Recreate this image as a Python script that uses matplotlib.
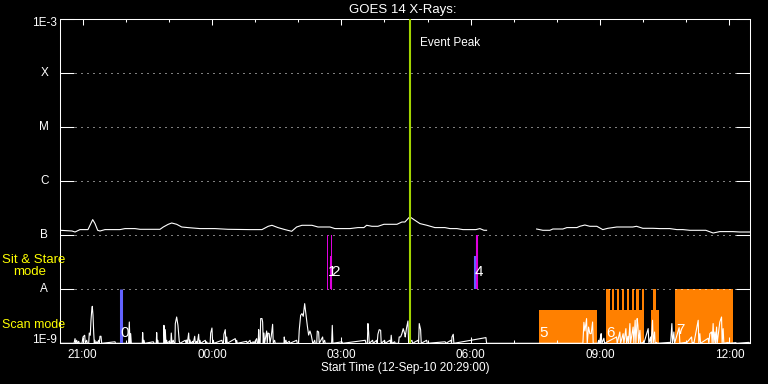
import matplotlib
matplotlib.use("Agg")
import matplotlib.pyplot as plt
from matplotlib.ticker import FixedLocator, NullLocator
import numpy as np

plt.rcParams['font.family'] = ['Liberation Sans', 'DejaVu Sans']

# ---------------- data ----------------
TITLE = "GOES 14 X-Rays:"
START_CLOCK = "20:29"
START_LABEL = "Start Time (12-Sep-10 20:29:00)"
SPAN_MIN = 960  # 16 hours shown

class_labels = ["1E-9", "A", "B", "C", "M", "X", "1E-3"]
class_flux = [1e-9, 1e-8, 1e-7, 1e-6, 1e-5, 1e-4, 1e-3]
grid_labels = ["A", "B", "C", "M", "X"]
hour_labels = ["21:00", "00:00", "03:00", "06:00", "09:00", "12:00"]

NAN = float("nan")
# long channel: (minutes since start, flux in 1e-9 W/m^2)
long_channel = [
    (0, 123.8), (16.3, 120.1), (20.5, 115.1), (27.4, 127.5), (38.5, 127.5), (41.3, 153.2),
    (45.1, 195.3), (48.3, 164.7), (52.0, 123.8), (55.2, 120.1), (62.2, 127.5), (83.0, 127.5),
    (90.0, 133.1), (103.9, 133.1), (110.9, 129.1), (138.7, 129.1), (143.3, 142.5), (150.2, 159.9),
    (155.0, 169.0), (161.9, 159.9), (168.9, 142.5), (177.6, 138.9), (194.3, 133.1), (215.2, 133.1),
    (233.3, 129.1), (263.9, 127.5), (280.6, 127.5), (289.3, 146.8), (294.5, 153.2), (302.8, 138.9),
    (312.6, 127.5), (321.9, 118.6), (328.8, 142.5), (336.2, 153.2), (350.1, 153.2), (358.5, 142.5),
    (375.2, 142.5), (382.1, 133.1), (403.0, 133.1), (414.1, 138.9), (422.4, 138.9), (426.2, 153.2),
    (433.6, 146.8), (441.9, 146.8), (450.3, 159.9), (468.4, 159.9), (475.3, 176.3), (479.5, 176.3),
    (485.1, 212.7), (487.9, 212.7), (493.4, 189.6), (500.4, 164.7), (510.1, 153.2), (521.2, 138.9),
    (535.1, 138.9), (542.1, 133.1), (551.8, 133.1), (560.2, 127.5), (578.2, 127.5), (583.8, 133.1),
    (589.4, 123.8), (593.1, 123.8), (628.0, NAN),
    (662.7, 130.8), (671.4, 123.8), (681.2, 123.8), (685.3, 130.8), (699.2, 130.8), (704.8, 138.9),
    (718.7, 138.9), (722.8, 146.8), (729.8, 155.1), (736.7, 146.8), (746.5, 146.8), (754.8, 127.5),
    (761.8, 134.8), (774.3, 142.5), (796.6, 142.5), (801.7, 146.8), (810.5, 134.8), (824.5, 134.8),
    (834.2, 133.1), (848.1, 133.1), (857.8, 127.5), (866.2, 127.5), (875.9, 123.8), (898.1, 123.8),
    (908.3, 110.3), (917.6, 117.1), (935.7, 117.1), (945.4, 115.1), (959.4, 115.1),
]

# short channel: (minutes since start, flux in 1e-9 W/m^2)
short_channel = [
    (0, 1.0), (19.1, 1.0), (20.5, 1.22), (21.4, 1.0), (22.8, 1.137), (23.7, 1.0),
    (25.6, 1.089), (26.4, 1.0), (30.2, 1.0), (31.6, 1.31), (33.9, 1.41), (34.8, 1.0),
    (36.7, 1.137), (37.6, 1.0), (39.5, 1.0), (40.3, 1.55), (41.7, 1.41), (42.7, 2.67),
    (43.7, 4.08), (44.5, 4.84), (45.5, 3.30), (46.5, 1.55), (47.3, 1.0), (47.9, 1.137),
    (48.7, 1.0), (50.6, 1.066), (51.5, 1.0), (53.4, 1.137), (54.3, 1.0), (55.2, 1.35),
    (56.6, 1.35), (57.6, 1.0), (76.1, 1.066), (76.8, 1.0),
    (95.0, 1.0), (96.0, 2.48), (97.0, 1.0), (97.9, 1.51), (98.8, 1.0),
    (114.0, 1.0), (114.6, 1.58), (115.5, 1.0), (116.4, 1.137), (117.4, 1.0),
    (129.4, 1.066), (130.3, 1.0), (133.5, 1.0), (134.1, 1.58), (134.9, 1.0), (135.5, 1.137),
    (136.3, 1.0), (143.8, 1.0), (144.2, 2.15), (145.2, 1.0), (146.1, 1.79), (147.0, 1.0),
    (148.0, 1.137), (148.8, 1.0), (151.6, 1.089), (152.6, 1.0), (153.8, 1.0), (154.4, 1.55),
    (155.4, 1.0), (157.2, 1.137), (158.2, 1.0), (159.5, 1.0), (160.0, 2.32), (161.9, 3.07),
    (163.7, 2.15), (165.5, 1.089), (166.5, 1.0), (173.9, 1.137), (174.9, 1.0), (175.8, 1.151),
    (176.7, 1.0), (178.6, 1.55), (179.4, 1.0), (180.4, 1.151), (181.4, 1.0), (184.2, 1.089),
    (185.0, 1.0), (187.0, 1.35), (187.8, 1.0), (189.7, 1.089), (190.6, 1.0), (192.5, 1.47),
    (193.3, 1.0), (194.3, 1.137), (195.3, 1.0), (201.7, 1.137), (202.7, 1.0), (203.6, 1.066),
    (204.5, 1.0), (208.5, 1.0), (209.2, 1.55), (211.0, 1.92), (212.0, 1.0), (212.8, 1.137),
    (213.8, 1.0), (224.9, 1.137), (225.9, 1.0), (227.0, 1.0), (227.7, 1.47), (229.5, 1.79),
    (230.5, 1.0), (231.5, 1.31), (232.3, 1.0), (243.4, 1.22), (244.4, 1.0), (245.4, 1.137),
    (246.2, 1.0), (259.3, 1.089), (260.1, 1.0), (263.9, 1.137), (264.8, 1.0), (268.5, 1.066),
    (269.4, 1.0), (273.2, 1.22), (274.0, 1.0), (275.3, 1.0), (276.0, 1.79), (276.8, 1.0),
    (278.0, 1.0), (278.8, 2.87), (280.6, 2.87), (281.5, 2.48), (282.4, 1.0), (283.3, 1.55),
    (284.3, 1.0), (285.7, 1.31), (287.1, 1.69), (287.9, 1.0), (288.9, 1.55), (290.7, 1.51),
    (291.7, 1.0), (293.5, 1.35), (295.4, 2.25), (296.3, 1.0), (298.2, 1.137), (299.1, 1.0),
    (311.2, 1.0), (311.6, 1.31), (312.6, 1.0), (314.0, 1.137), (314.9, 1.0), (318.5, 1.089),
    (319.5, 1.0), (328.8, 1.137), (329.7, 1.0), (331.5, 1.0), (332.4, 1.74), (334.4, 3.30),
    (336.2, 3.55), (338.0, 3.16), (340.0, 5.43), (341.8, 3.44), (343.6, 2.15), (345.5, 1.42),
    (347.3, 1.69), (349.1, 1.42), (351.1, 1.03), (351.9, 1.0), (353.9, 1.137), (354.7, 1.0),
    (356.8, 1.0), (357.5, 1.69), (359.4, 1.62), (360.3, 1.0), (365.0, 1.31), (365.8, 1.0),
    (367.8, 1.137), (368.6, 1.0), (377.5, 1.0), (378.4, 2.15), (379.3, 1.0), (391.8, 1.066),
    (392.8, 1.0), (424.3, 1.137), (425.2, 1.0), (427.2, 1.0), (428.0, 2.32), (429.0, 1.62),
    (429.8, 1.0), (434.5, 1.137), (435.4, 1.0), (440.1, 1.137), (440.9, 1.0), (441.9, 1.47),
    (443.7, 1.79), (445.7, 1.74), (446.5, 1.0), (451.2, 1.137), (452.1, 1.0), (458.6, 1.137),
    (459.6, 1.0), (460.4, 1.41), (461.4, 1.0), (465.2, 1.066), (466.0, 1.0), (470.6, 1.0),
    (471.5, 1.31), (473.5, 1.31), (475.3, 1.51), (477.1, 1.87), (479.1, 1.51), (479.9, 1.31),
    (481.8, 1.95), (483.7, 2.59), (484.6, 1.0), (489.2, 1.137), (490.2, 1.0), (497.6, 1.137),
    (498.5, 1.0), (499.4, 2.32), (501.3, 1.79), (502.2, 1.0), (509.7, 1.137), (510.5, 1.0),
    (535.5, 1.066), (536.5, 1.0), (543.5, 1.137), (544.4, 1.0), (544.9, 1.31), (546.7, 1.47),
    (547.6, 1.0), (592.2, 1.275), (593.1, 1.0),
    (727.1, 1.0), (728.5, 2.45), (729.9, 1.69), (732.2, 2.87), (733.1, 1.0), (735.0, 2.00),
    (736.8, 1.51), (738.6, 1.51), (740.6, 2.48), (741.4, 1.0), (747.9, 1.0), (748.9, 1.137),
    (749.8, 1.0), (751.7, 1.31), (752.5, 1.51), (753.5, 1.0), (756.3, 1.24), (757.3, 1.0),
    (774.0, 1.31), (774.8, 1.0), (778.5, 1.62), (779.5, 1.0), (783.1, 1.51), (784.1, 1.0),
    (786.9, 1.87), (787.9, 1.0), (789.7, 1.35), (790.6, 1.0), (792.5, 2.32), (793.4, 1.0),
    (797.0, 2.00), (798.0, 1.0), (799.8, 2.67), (800.8, 1.0), (802.6, 2.87), (803.6, 2.15),
    (804.6, 1.0), (806.4, 1.74), (807.3, 1.0), (811.0, 1.04), (811.9, 1.0), (817.9, 1.87),
    (818.9, 1.0), (821.3, 1.31), (822.1, 1.0), (824.0, 2.67), (824.9, 1.0), (826.8, 1.62),
    (827.6, 1.0), (829.6, 1.04), (830.4, 1.0), (848.1, 1.04), (849.1, 1.0), (850.9, 2.32),
    (851.8, 1.0), (853.7, 1.62), (854.6, 1.0), (861.0, 1.95), (862.0, 1.0), (869.9, 1.04),
    (870.8, 1.0), (878.3, 1.31), (879.1, 1.0), (880.5, 1.04), (881.5, 1.0), (887.5, 2.67),
    (888.4, 1.0), (889.8, 1.51), (890.8, 1.0), (901.4, 1.24), (902.3, 1.0), (903.7, 1.51),
    (906.1, 1.62), (906.9, 1.0), (908.3, 2.32), (909.3, 1.0), (910.7, 1.62), (911.7, 1.0),
    (913.1, 2.00), (913.9, 1.0), (917.6, 2.48), (920.0, 3.07), (920.8, 1.0), (922.2, 1.87),
    (923.2, 1.0), (929.2, 1.04), (930.2, 1.0), (939.9, 1.03), (940.9, 1.0), (958.0, 1.04),
    (959.4, 1.0),
]

event_peak_min = 487.1
event_label = "Event Peak"

# scan-mode intervals (minutes since start), top level in 1e-9 W/m^2
scan_start = [666.0, 759.1, 821.7, 759.1, 768.1, 774.5, 781.4, 788.4, 794.9, 801.4, 809.2, 824.0, 855.0]
scan_end = [746.1, 811.9, 832.8, 764.6, 770.9, 777.7, 784.6, 791.6, 798.2, 805.1, 812.4, 828.2, 935.3]
scan_top = [4.08, 4.08, 4.08, 10, 10, 10, 10, 10, 10, 10, 10, 10, 10]

# pointing markers (minutes, low, high in 1e-9 W/m^2)
blue_min = [85.1, 576.9]
blue_low = [1, 10]
blue_high = [10, 40.8]
magenta_thin_min = [371.4, 377.0]
magenta_thin_low = [10, 10]
magenta_thin_high = [100, 100]
magenta_thick_min = [376.6, 579.6]
magenta_thick_low = [10, 10]
magenta_thick_high = [40.8, 100]

mark_text = ["0", "1", "2", "4", "5", "6", "7"]
mark_min = [89.3, 378.6, 383.5, 582.4, 672.1, 766.0, 862.7]
mark_flux = [1.53, 20.9, 20.9, 20.9, 1.53, 1.53, 1.74]

mode_labels = ["Sit & Stare", "mode", "Scan mode"]

# ---------------- drawing ----------------
W, H = 768, 384
fig = plt.figure(figsize=(W / 100, H / 100), dpi=100, facecolor='black')
ax = fig.add_axes([60.3 / W, (H - 343.3) / H, 690 / W, 324 / H], facecolor='black')
ax.set_yscale('log')
ax.set_xlim(0, SPAN_MIN)
ax.set_ylim(class_flux[0], class_flux[-1])

U = 1e-9
ORANGE = '#ff8000'
BLUE = '#6262ff'
MAGENTA = '#dd00dd'
LIME = '#a2d400'
YELLOW = '#ffff00'

# scan-mode blocks
s0 = np.array(scan_start)
s1 = np.array(scan_end)
ax.bar(s0, np.array(scan_top) * U - U, width=s1 - s0, bottom=U, align='edge',
       color=ORANGE, linewidth=0, zorder=1)

# dotted class grid
for lab, fl in zip(class_labels, class_flux):
    if lab in grid_labels:
        ax.axhline(fl, xmin=0.0213, xmax=0.979, color='white', lw=0.72,
                   ls=(0, (1, 5)), zorder=2)

# channels
lt = np.array([p[0] for p in long_channel])
lf = np.array([p[1] for p in long_channel]) * U
ax.plot(lt, lf, color='white', lw=0.8, zorder=3)
st = np.array([p[0] for p in short_channel])
sf = np.array([p[1] for p in short_channel]) * U
ax.plot(st, sf, color='white', lw=0.8, zorder=3)

# markers
ax.vlines(blue_min, np.array(blue_low) * U, np.array(blue_high) * U, color=BLUE,
          lw=[2.2, 1.5], zorder=4)
ax.vlines(magenta_thin_min, np.array(magenta_thin_low) * U, np.array(magenta_thin_high) * U,
          color=MAGENTA, lw=0.6, zorder=4, antialiased=False)
ax.vlines(magenta_thick_min, np.array(magenta_thick_low) * U, np.array(magenta_thick_high) * U,
          color=MAGENTA, lw=1.5, zorder=4)
for t, m, f in zip(mark_text, mark_min, mark_flux):
    ax.text(m, f * U, t, color='white', fontsize=11, ha='center', va='center', zorder=6)

# event peak
ax.axvline(event_peak_min, color=LIME, lw=1.5, zorder=5)
ax.annotate(event_label, xy=(event_peak_min, 1.0), xycoords=('data', 'axes fraction'),
            xytext=(10, -24), textcoords='offset pixels', color='white', fontsize=8.5,
            ha='left', va='center')

# x ticks from clock labels
def clock_to_min(s):
    h, m = map(int, s.split(':'))
    sh, sm = map(int, START_CLOCK.split(':'))
    return ((h * 60 + m) - (sh * 60 + sm)) % 1440

major = [clock_to_min(s) for s in hour_labels]
minor = [v for v in np.arange(major[0], SPAN_MIN, 60) if v not in major]
ax.xaxis.set_major_locator(FixedLocator(major))
ax.set_xticklabels(hour_labels)
ax.xaxis.set_minor_locator(FixedLocator(minor))
ax.tick_params(axis='x', which='major', direction='in', length=4.3, width=0.75,
               top=True, bottom=True, colors='white', labelsize=8.5, pad=4)
ax.tick_params(axis='x', which='minor', direction='in', length=2.2, width=0.75,
               top=True, bottom=True, colors='white')

ax.yaxis.set_major_locator(FixedLocator(class_flux))
ax.yaxis.set_minor_locator(NullLocator())
ax.tick_params(axis='y', which='major', direction='in', length=10, width=0.75,
               left=True, right=True, labelleft=False, colors='white')

for sp in ax.spines.values():
    sp.set_color('white')
    sp.set_linewidth(0.75)

# y class labels
for i, (lab, fl) in enumerate(zip(class_labels, class_flux)):
    dy = 0
    if i == 0:
        dy = 3.3
    elif i == len(class_labels) - 1:
        dy = -4
    ax.annotate(lab, xy=(0, fl), xycoords=('axes fraction', 'data'), xytext=(-16, dy),
                textcoords='offset pixels', color='white', fontsize=8.5,
                ha='center', va='center', annotation_clip=False)

# mode labels (yellow)
fig.text(1.7 / W, 1 - 263.3 / H, mode_labels[0], color=YELLOW, fontsize=9.5, ha='left', va='baseline')
fig.text(12.7 / W, 1 - 275 / H, mode_labels[1], color=YELLOW, fontsize=9.5, ha='left', va='baseline')
fig.text(1.7 / W, 1 - 328.3 / H, mode_labels[2], color=YELLOW, fontsize=9, ha='left', va='baseline')

fig.text(402.5 / W, 1 - 9.5 / H, TITLE, color='white', fontsize=9.5, ha='center', va='center')
fig.text(405 / W, 1 - 368 / H, START_LABEL, color='white', fontsize=8.5, ha='center', va='center')

fig.savefig('out.png', dpi=100, facecolor='black')
